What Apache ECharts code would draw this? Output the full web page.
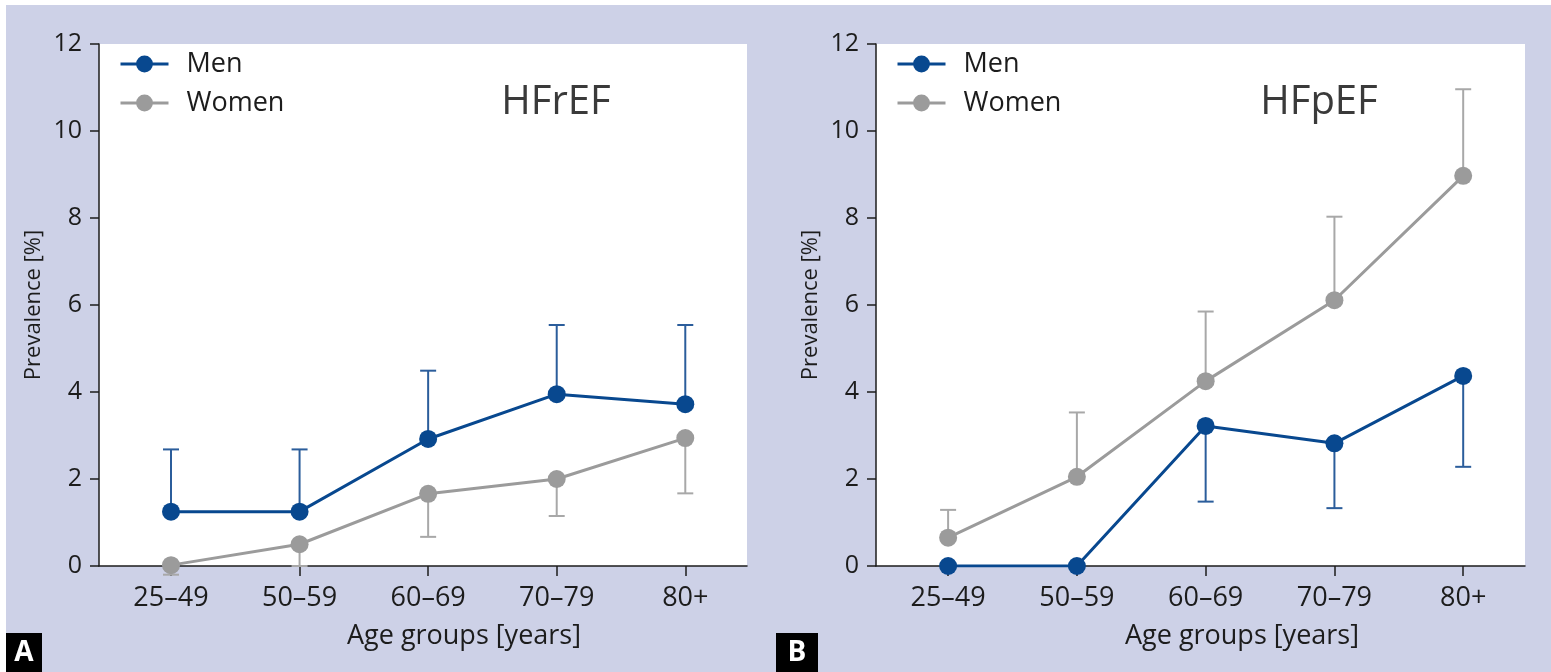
<!DOCTYPE html>
<html>
<head>
<meta charset="utf-8">
<title>Heart failure prevalence by age group</title>
<script src="https://cdn.jsdelivr.net/npm/echarts@6/dist/echarts.min.js"></script>
<style>
  html, body { margin: 0; padding: 0; background: #ffffff; }
  #chart { width: 1551px; height: 672px; }
</style>
</head>
<body>
<div id="chart"></div>
<script>
// Age groups along the x axis
const categories = ['25–49', '50–59', '60–69', '70–79', '80+'];
const yTicks = [0, 2, 4, 6, 8, 10, 12];

// Panel A: HFrEF prevalence [%]
const hfrefMen = [1.25, 1.25, 2.92, 3.95, 3.72];
const hfrefMenUpper = [2.68, 2.68, 4.49, 5.54, 5.54];
const hfrefWomen = [0.02, 0.5, 1.66, 2.0, 2.94];
const hfrefWomenLower = [-0.2, 0.0, 0.67, 1.15, 1.67];

// Panel B: HFpEF prevalence [%]
const hfpefMen = [0.0, 0.0, 3.22, 2.82, 4.37];
const hfpefMenLower = [0.0, 0.0, 1.48, 1.33, 2.28];
const hfpefWomen = [0.65, 2.05, 4.25, 6.11, 8.97];
const hfpefWomenUpper = [1.29, 3.53, 5.85, 8.03, 10.96];

const FONT = 'Open Sans';
const INK = '#1c1c1c';
const BLUE = '#08488f';
const GRAY = '#9b9b9b';
const BLUE_BAR = '#2b5d9b';
const GRAY_BAR = '#a8a8a8';
const PANEL_BG = '#cdd1e7';

const idx = categories.map((c, i) => i);
const points = (values) => values.map((v, i) => [i, v]);
const bars = (values, bounds) => values.map((v, i) => [i, v, bounds[i]]);

// One-sided error bar: stem from the mean to the bound, with a short cap
function errorBar(color) {
  return function (params, api) {
    const x = api.value(0);
    const a = api.coord([x, api.value(1)]);
    const b = api.coord([x, api.value(2)]);
    const half = 8;
    const style = { stroke: color, lineWidth: 2 };
    return {
      type: 'group',
      children: [
        { type: 'line', shape: { x1: a[0], y1: a[1], x2: b[0], y2: b[1] }, style: style },
        { type: 'line', shape: { x1: b[0] - half, y1: b[1], x2: b[0] + half, y2: b[1] }, style: style }
      ]
    };
  };
}

function xAxisFor(gridIndex) {
  return {
    type: 'value',
    gridIndex: gridIndex,
    min: -0.56,
    max: 4.48,
    splitLine: { show: false },
    axisLine: { onZero: false, lineStyle: { color: INK, width: 1.5 } },
    axisTick: { customValues: idx, length: 10, lineStyle: { color: INK, width: 1.5 } },
    axisLabel: {
      customValues: idx,
      formatter: (v) => categories[Math.round(v)],
      margin: 19,
      fontFamily: FONT,
      fontSize: 27,
      color: INK
    }
  };
}

function yAxisFor(gridIndex) {
  return {
    type: 'value',
    gridIndex: gridIndex,
    min: yTicks[0],
    max: yTicks[yTicks.length - 1],
    interval: 2,
    name: 'Prevalence [%]',
    nameLocation: 'middle',
    nameGap: 54,
    nameTextStyle: { fontFamily: FONT, fontSize: 22, color: INK },
    splitLine: { show: false },
    axisLine: { onZero: false, lineStyle: { color: INK, width: 1.5 } },
    axisTick: { length: 9, lineStyle: { color: INK, width: 1.5 } },
    axisLabel: { margin: 17, fontFamily: FONT, fontSize: 25, color: INK }
  };
}

function lineSeries(name, values, color, gridIndex) {
  return {
    type: 'line',
    name: name,
    xAxisIndex: gridIndex,
    yAxisIndex: gridIndex,
    data: points(values),
    symbol: 'circle',
    symbolSize: 18,
    lineStyle: { color: color, width: 3 },
    itemStyle: { color: color },
    emphasis: { disabled: true },
    z: 3
  };
}

function barSeries(values, bounds, color, gridIndex) {
  return {
    type: 'custom',
    xAxisIndex: gridIndex,
    yAxisIndex: gridIndex,
    data: bars(values, bounds),
    renderItem: errorBar(color),
    clip: false,
    z: 2
  };
}

function legendFor(left) {
  return {
    data: ['Men', 'Women'],
    orient: 'vertical',
    left: left,
    top: 49,
    padding: 0,
    itemWidth: 48,
    itemHeight: 21,
    itemGap: 9,
    selectedMode: false,
    lineStyle: { width: 3 },
    textStyle: { fontFamily: FONT, fontSize: 27, color: INK, lineHeight: 30, padding: [0, 0, 0, 13] }
  };
}

function label(text, x, y, size, color, weight) {
  return {
    type: 'text',
    x: x,
    y: y,
    z: 10,
    style: {
      text: text,
      textAlign: 'center',
      textVerticalAlign: 'middle',
      font: (weight || 'normal') + ' ' + size + 'px "' + FONT + '"',
      fill: color
    }
  };
}

const option = {
  animation: false,
  backgroundColor: PANEL_BG,
  grid: [
    { left: 99, top: 44, width: 648, height: 522, show: true, backgroundColor: '#ffffff', borderWidth: 0 },
    { left: 876, top: 44, width: 649, height: 522, show: true, backgroundColor: '#ffffff', borderWidth: 0 }
  ],
  xAxis: [xAxisFor(0), xAxisFor(1)],
  yAxis: [yAxisFor(0), yAxisFor(1)],
  legend: [legendFor(119), legendFor(896)],
  series: [
    barSeries(hfrefMen, hfrefMenUpper, BLUE_BAR, 0),
    barSeries(hfrefWomen, hfrefWomenLower, GRAY_BAR, 0),
    lineSeries('Women', hfrefWomen, GRAY, 0),
    lineSeries('Men', hfrefMen, BLUE, 0),
    barSeries(hfpefMen, hfpefMenLower, BLUE_BAR, 1),
    barSeries(hfpefWomen, hfpefWomenUpper, GRAY_BAR, 1),
    lineSeries('Women', hfpefWomen, GRAY, 1),
    lineSeries('Men', hfpefMen, BLUE, 1)
  ],
  graphic: [
    { type: 'rect', shape: { x: 0, y: 0, width: 1551, height: 5 }, style: { fill: '#ffffff' }, z: 10 },
    { type: 'rect', shape: { x: 0, y: 0, width: 6, height: 672 }, style: { fill: '#ffffff' }, z: 10 },
    label('HFrEF', 556, 103, 40, '#3a3a3a'),
    label('HFpEF', 1319, 103, 40, '#3a3a3a'),
    label('Age groups [years]', 464, 636, 27, INK),
    label('Age groups [years]', 1242, 636, 27, INK),
    { type: 'rect', shape: { x: 6, y: 633, width: 36, height: 39 }, style: { fill: '#000000' }, z: 10 },
    label('A', 24, 653, 28, '#ffffff', 'bold'),
    { type: 'rect', shape: { x: 776, y: 633, width: 42, height: 39 }, style: { fill: '#000000' }, z: 10 },
    label('B', 797, 653, 28, '#ffffff', 'bold')
  ]
};

const chart = echarts.init(document.getElementById('chart'));
chart.setOption(option);
</script>
</body>
</html>
